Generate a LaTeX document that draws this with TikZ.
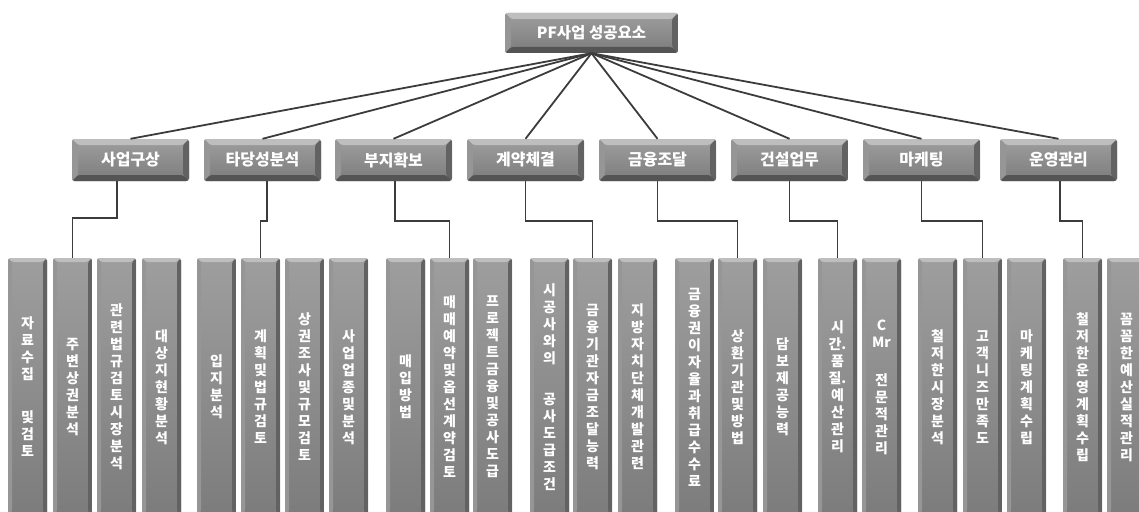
\documentclass[tikz,border=0pt]{standalone}
\usepackage{fontspec}
\setmainfont{Noto Sans CJK KR}
\usepackage{tikz}
\usetikzlibrary{calc}

\definecolor{facehi}{RGB}{158,158,158}
\definecolor{facelo}{RGB}{124,124,124}
\definecolor{edgehi}{RGB}{190,190,190}
\definecolor{edgeside}{RGB}{150,150,150}
\definecolor{edgedark}{RGB}{98,98,98}
\definecolor{edgebot}{RGB}{84,84,84}
\definecolor{linkgray}{RGB}{60,60,60}

\tikzset{
  bevel/.style={path picture={
    \coordinate (bnw) at (path picture bounding box.north west);
    \coordinate (bne) at (path picture bounding box.north east);
    \coordinate (bsw) at (path picture bounding box.south west);
    \coordinate (bse) at (path picture bounding box.south east);
    \fill[edgehi] (bnw) -- (bne) -- ($(bne)+(-#1,#1)$) -- ($(bnw)+(#1,#1)$) -- cycle;
    \fill[edgeside] (bnw) -- ($(bnw)+(#1,#1)$) -- ($(bsw)+(#1,-#1)$) -- (bsw) -- cycle;
    \fill[edgedark] (bne) -- (bse) -- ($(bse)+(-#1,-#1)$) -- ($(bne)+(-#1,#1)$) -- cycle;
    \fill[edgebot] (bsw) -- ($(bsw)+(#1,-#1)$) -- ($(bse)+(-#1,-#1)$) -- (bse) -- cycle;
  }},
  bevel/.default=5,
  btn/.style={rounded corners=2.5pt, top color=facehi, bottom color=facelo, text=white},
  rootbox/.style={btn, bevel=6, minimum width=173, minimum height=40,
    font=\fontsize{15.5}{18}\selectfont\bfseries},
  catbox/.style={btn, bevel=6, minimum width=117, minimum height=42,
    font=\fontsize{16}{18}\selectfont\bfseries},
  itembox/.style={btn, bevel=4, minimum width=39, minimum height=258, inner sep=0pt,
    align=center, font=\fontsize{14}{17}\selectfont\bfseries},
  link/.style={draw=linkgray, line width=1.8pt},
}

\begin{document}
\begin{tikzpicture}[x=1pt,y=-1pt]
    \clip (0,0) rectangle (1139,511);

    % Sommet
    \node[rootbox] (root) at (591.5,33) {PF사업 성공요소};

    % Domaines
    \node[catbox] (plan)  at (130.5,160)  {사업구상};
    \node[catbox] (feas)  at (262.5,160)  {타당성분석};
    \node[catbox] (site)  at (393.5,160)  {부지확보};
    \node[catbox] (deal)  at (525.5,160)  {계약체결};
    \node[catbox] (fund)  at (657.5,160)  {금융조달};
    \node[catbox] (build) at (789.5,160)  {건설업무};
    \node[catbox] (mkt)   at (921.5,160)  {마케팅};
    \node[catbox] (oper)  at (1058.5,160) {운영관리};

    \draw[link] (root.south) -- (plan.north);
    \draw[link] (root.south) -- (feas.north);
    \draw[link] (root.south) -- (site.north);
    \draw[link] (root.south) -- (deal.north);
    \draw[link] (root.south) -- (fund.north);
    \draw[link] (root.south) -- (build.north);
    \draw[link] (root.south) -- (mkt.north);
    \draw[link] (root.south) -- (oper.north);

    % Détails
    \node[itembox] (plan1) at (27.5,387)  {자\\료\\수\\집\\[26pt]및\\검\\토};
    \node[itembox] (plan2) at (72.5,387)  {주\\변\\상\\권\\분\\석};
    \node[itembox] (plan3) at (116.5,387) {관\\련\\법\\규\\검\\토\\시\\장\\분\\석};
    \node[itembox] (plan4) at (161.5,387) {대\\상\\지\\현\\황\\분\\석};

    \node[itembox] (feas1) at (216.5,387) {입\\지\\분\\석};
    \node[itembox] (feas2) at (260.5,387) {계\\획\\및\\법\\규\\검\\토};
    \node[itembox] (feas3) at (304.5,387) {상\\권\\조\\사\\및\\규\\모\\검\\토};
    \node[itembox] (feas4) at (348.5,387) {사\\업\\업\\종\\및\\분\\석};

    \node[itembox] (site1) at (405.5,387) {매\\입\\방\\법};
    \node[itembox] (site2) at (449.5,387) {매\\매\\예\\약\\및\\옵\\선\\계\\약\\검\\토};
    \node[itembox] (site3) at (492.5,387) {프\\로\\젝\\트\\금\\융\\및\\공\\사\\도\\급};

    \node[itembox] (deal1) at (549.5,387) {시\\공\\사\\와\\의\\[24pt]공\\사\\도\\급\\조\\건};
    \node[itembox] (deal2) at (592.5,387) {금\\융\\기\\관\\자\\금\\조\\달\\능\\력};
    \node[itembox] (deal3) at (637.5,387) {지\\방\\자\\치\\단\\체\\개\\발\\관\\련};

    \node[itembox] (fund1) at (694.5,387) {금\\융\\권\\이\\자\\율\\과\\취\\급\\수\\수\\료};
    \node[itembox] (fund2) at (737.5,387) {상\\환\\기\\관\\및\\방\\법};
    \node[itembox] (fund3) at (782.5,387) {담\\보\\제\\공\\능\\력};

    \node[itembox] (build1) at (837.5,387) {시\\간.\\품\\질.\\예\\산\\관\\리};
    \node[itembox] (build2) at (881.5,387) {C\\Mr\\[21pt]전\\문\\적\\관\\리};

    \node[itembox] (mkt1) at (937.5,387)  {철\\저\\한\\시\\장\\분\\석};
    \node[itembox] (mkt2) at (982.5,387)  {고\\객\\니\\즈\\만\\족\\도};
    \node[itembox] (mkt3) at (1026.5,387) {마\\케\\팅\\계\\획\\수\\립};

    \node[itembox] (oper1) at (1082.5,387) {철\\저\\한\\운\\영\\계\\획\\수\\립};
    \node[itembox] (oper2) at (1126.5,387) {꼼\\꼼\\한\\예\\산\\실\\적\\관\\리};

    \draw[link] ([xshift=-13.5]plan.south) -- ++(0,37) -| (plan2.north);
    \draw[link] ([xshift=4.5]feas.south) -- ++(0,40) -| (feas2.north);
    \draw[link] ([xshift=1.5]site.south) -- ++(0,40) -| (site2.north);
    \draw[link] (deal.south) -- ++(0,40) -| (deal2.north);
    \draw[link] (fund.south) -- ++(0,40) -| (fund2.north);
    \draw[link] (build.south) -- ++(0,40) -| (build1.north);
    \draw[link] (mkt.south) -- ++(0,40) -| (mkt2.north);
    \draw[link] ([xshift=1.5]oper.south) -- ++(0,40) -| (oper1.north);
\end{tikzpicture}
\end{document}
